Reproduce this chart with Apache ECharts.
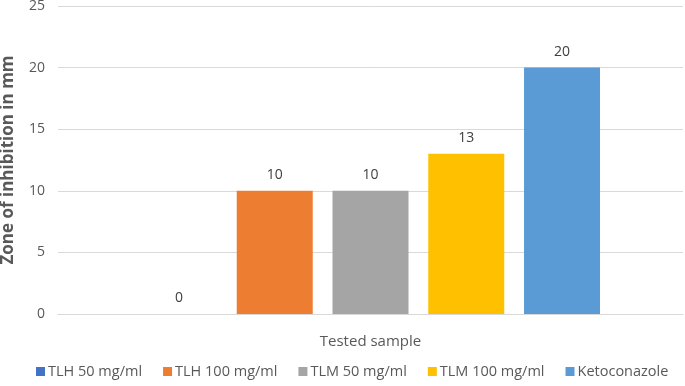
<!DOCTYPE html>
<html><head><meta charset="utf-8">
<script src="https://cdn.jsdelivr.net/npm/echarts@6/dist/echarts.min.js"></script>
<style>html,body{margin:0;padding:0;background:#fff}#c{width:685px;height:386px}</style>
</head><body><div id="c"></div>
<script>
const categories = ['Tested sample'];
const seriesNames = ['TLH 50 mg/ml', 'TLH 100 mg/ml', 'TLM 50 mg/ml', 'TLM 100 mg/ml', 'Ketoconazole'];
const seriesValues = [0, 10, 10, 13, 20];
const colors = ['#4472C4', '#ED7D31', '#A5A5A5', '#FFC000', '#5B9BD5'];
const yTicks = [0, 5, 10, 15, 20, 25];

const font = 'Open Sans, Liberation Sans, sans-serif';
const chart = echarts.init(document.getElementById('c'));
chart.setOption({
  animation: false,
  textStyle: { fontFamily: font },
  grid: { left: 58, right: 2, top: 6, bottom: 72, containLabel: false, outerBoundsMode: 'none' },
  legend: {
    bottom: 2, left: 31, itemWidth: 9, itemHeight: 9, itemGap: 21,
    icon: 'rect',
    textStyle: { color: '#595959', fontSize: 14.5, fontFamily: font, padding: [0, 0, 0, -2] },
    data: seriesNames
  },
  xAxis: {
    type: 'category', data: categories,
    name: 'Tested sample', nameLocation: 'middle', nameGap: 20,
    nameTextStyle: { color: '#595959', fontSize: 15, fontFamily: font },
    axisLine: { lineStyle: { color: '#D9D9D9', width: 1 } },
    axisTick: { show: false }, axisLabel: { show: false }
  },
  yAxis: {
    type: 'value', min: yTicks[0], max: yTicks[yTicks.length - 1], interval: 5,
    name: 'Zone of inhibition in mm', nameLocation: 'middle', nameGap: 41,
    nameTextStyle: { color: '#595959', fontSize: 17, fontWeight: 'bold', fontFamily: font },
    axisLine: { show: false }, axisTick: { show: false },
    axisLabel: { color: '#595959', fontSize: 14, margin: 13, fontFamily: font },
    splitLine: { lineStyle: { color: '#D9D9D9', width: 1 } }
  },
  series: seriesNames.map((n, i) => ({
    name: n, type: 'bar', data: [seriesValues[i]],
    barWidth: 76, barGap: '26%', barCategoryGap: '26%',
    itemStyle: { color: colors[i] },
    label: { show: true, position: 'top', distance: 9, color: '#404040', fontSize: 14, fontFamily: font }
  }))
});
</script></body></html>
